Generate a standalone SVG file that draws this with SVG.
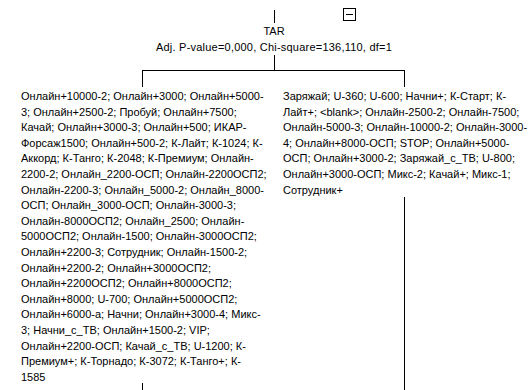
<svg xmlns="http://www.w3.org/2000/svg" width="529" height="390" viewBox="0 0 529 390">
<style>
text{font-family:"Liberation Sans",Arial,sans-serif;font-size:11px;fill:#000}
.c{text-anchor:middle}
.h{letter-spacing:0.22px}
.ln{stroke:#000;stroke-width:1;fill:none}
</style>
<rect width="529" height="390" fill="#fff"/>
<g id="root">
<rect class="ln" x="343.5" y="8.5" width="12" height="12"/>
<line class="ln" x1="346" y1="14.5" x2="353" y2="14.5"/>
<text class="c" x="274" y="35">TAR</text>
<text class="c h" x="274" y="51">Adj. P-value=0,000, Chi-square=136,110, df=1</text>
</g>
<g id="connectors">
<line class="ln" x1="274.5" y1="10" x2="274.5" y2="23"/>
<line class="ln" x1="274.5" y1="55" x2="274.5" y2="70.5"/>
<line class="ln" x1="142.5" y1="70.5" x2="404.5" y2="70.5"/>
<line class="ln" x1="142.5" y1="70" x2="142.5" y2="87"/>
<line class="ln" x1="404.5" y1="70" x2="404.5" y2="87"/>
<line class="ln" x1="142.5" y1="383" x2="142.5" y2="390"/>
<line class="ln" x1="404.5" y1="197" x2="404.5" y2="390"/>
</g>
<g id="left">
<text x="21" y="100">Онлайн+10000-2; Онлайн+3000; Онлайн+5000-</text>
<text x="21" y="115.6">3; Онлайн+2500-2; Пробуй; Онлайн+7500;</text>
<text x="21" y="131.2">Качай; Онлайн+3000-3; Онлайн+500; ИКАР-</text>
<text x="21" y="146.8">Форсаж1500; Онлайн+500-2; К-Лайт; К-1024; К-</text>
<text x="21" y="162.4">Аккорд; К-Танго; К-2048; К-Премиум; Онлайн-</text>
<text x="21" y="178">2200-2; Онлайн_2200-ОСП; Онлайн-2200ОСП2;</text>
<text x="21" y="193.6">Онлайн-2200-3; Онлайн_5000-2; Онлайн_8000-</text>
<text x="21" y="209.2">ОСП; Онлайн_3000-ОСП; Онлайн-3000-3;</text>
<text x="21" y="224.8">Онлайн-8000ОСП2; Онлайн_2500; Онлайн-</text>
<text x="21" y="240.4">5000ОСП2; Онлайн-1500; Онлайн-3000ОСП2;</text>
<text x="21" y="256">Онлайн+2200-3; Сотрудник; Онлайн-1500-2;</text>
<text x="21" y="271.6">Онлайн+2200-2; Онлайн+3000ОСП2;</text>
<text x="21" y="287.2">Онлайн+2200ОСП2; Онлайн+8000ОСП2;</text>
<text x="21" y="302.8">Онлайн+8000; U-700; Онлайн+5000ОСП2;</text>
<text x="21" y="318.4">Онлайн+6000-а; Начни; Онлайн+3000-4; Микс-</text>
<text x="21" y="334">3; Начни_с_ТВ; Онлайн+1500-2; VIP;</text>
<text x="21" y="349.6">Онлайн+2200-ОСП; Качай_с_ТВ; U-1200; К-</text>
<text x="21" y="365.2">Премиум+; К-Торнадо; К-3072; К-Танго+; К-</text>
<text x="21" y="380.8">1585</text>
</g>
<g id="right">
<text x="283" y="100">Заряжай; U-360; U-600; Начни+; К-Старт; К-</text>
<text x="283" y="115.6">Лайт+; &lt;blank&gt;; Онлайн-2500-2; Онлайн-7500;</text>
<text x="283" y="131.2">Онлайн-5000-3; Онлайн-10000-2; Онлайн-3000-</text>
<text x="283" y="146.8">4; Онлайн+8000-ОСП; STOP; Онлайн+5000-</text>
<text x="283" y="162.4">ОСП; Онлайн+3000-2; Заряжай_с_ТВ; U-800;</text>
<text x="283" y="178">Онлайн+3000-ОСП; Микс-2; Качай+; Микс-1;</text>
<text x="283" y="193.6">Сотрудник+</text>
</g>
</svg>
